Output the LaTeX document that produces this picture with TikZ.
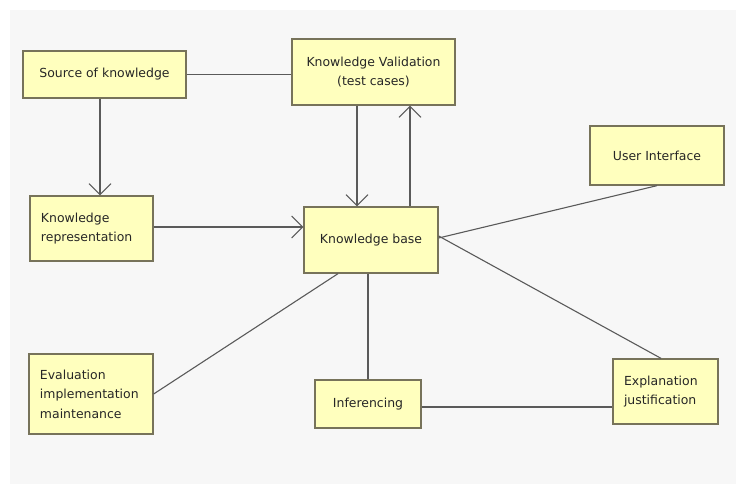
\documentclass[tikz,border=0pt]{standalone}
\usepackage{fontspec}
\setmainfont{DejaVu Sans}
\usetikzlibrary{arrows.meta}
\definecolor{boxfill}{HTML}{FFFFBE}
\definecolor{boxline}{HTML}{77735A}
\definecolor{wire}{HTML}{5A5A5A}
\tikzset{
  kbox/.style={draw=boxline, fill=boxfill, line width=1.3bp, inner sep=0pt,
    font=\fontsize{12.5}{19.5}\selectfont, text=black!85, align=left},
  wirel/.style={draw=wire, line width=1.1bp},
  opent/.style={wirel, -{Straight Barb[length=11bp,width=22bp,line width=1bp]}}
}
\begin{document}
\begin{tikzpicture}[x=1bp,y=-1bp]
\useasboundingbox (0,0) rectangle (736,484);
\fill[black!3] (10,10) rectangle (736,484);

\node[kbox, minimum width=163bp, minimum height=47bp] (src) at (104.5,74.5) {Source of knowledge};
\node[kbox, minimum width=163bp, minimum height=66bp, align=center] (kv) at (373.5,72) {Knowledge Validation\\(test cases)};
\node[kbox, minimum width=134bp, minimum height=59bp] (ui) at (657,155.5) {User Interface};
\node[kbox, minimum width=123bp, minimum height=65bp, text width=101bp] (kr) at (91.5,228.5) {Knowledge\\representation};
\node[kbox, minimum width=124bp, minimum height=80bp, text width=102bp] (ev) at (91,394) {Evaluation\\implementation\\maintenance};
\node[kbox, minimum width=134bp, minimum height=66bp] (kb) at (371,240) {Knowledge base};
\node[kbox, minimum width=106bp, minimum height=48bp] (inf) at (368,404) {Inferencing};
\node[kbox, minimum width=105bp, minimum height=65bp, text width=83bp] (ex) at (665.5,391.5) {Explanation\\justification};

\draw[wirel] (src.east) -- (src.east -| kv.west);
\draw[opent] ([xshift=-4.5bp]src.south) -- ([xshift=-4.5bp]src.south |- kr.north);
\draw[opent] ([xshift=-16.5bp]kv.south) -- ([xshift=-16.5bp]kv.south |- kb.north);
\draw[opent] ([xshift=36.5bp]kv.south |- kb.north) -- ([xshift=36.5bp]kv.south);
\draw[opent] ([yshift=1.5bp]kr.east) -- ([yshift=1.5bp]kr.east -| kb.west);
\draw[wirel] ([yshift=2bp]kb.east) -- (ui.south);
\draw[wirel] ([yshift=4bp]kb.east) -- ([xshift=-4.5bp]ex.north);
\draw[wirel] ([xshift=-33bp]kb.south) -- (ev.east);
\draw[wirel] (inf.north) -- (inf.north |- kb.south);
\draw[wirel] ([yshift=-3bp]inf.east) -- ([yshift=-3bp]inf.east -| ex.west);
\end{tikzpicture}
\end{document}
